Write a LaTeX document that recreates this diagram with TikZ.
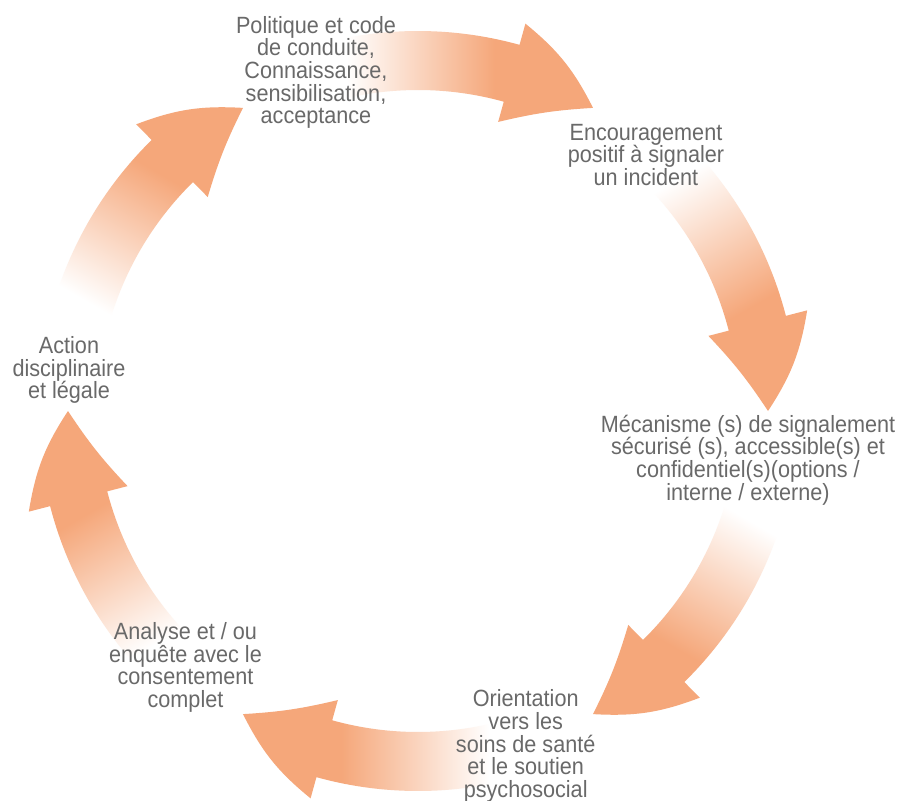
\documentclass[tikz,border=0pt]{standalone}
\usepackage{fontspec}
\setmainfont{Liberation Sans}[FakeStretch=0.92]
\usepackage{tikz}
\definecolor{arrowor}{RGB}{245,167,122}
\definecolor{labelgray}{RGB}{105,105,105}
\pgfdeclarehorizontalshading{arrowfade}{100bp}{color(0bp)=(white); color(30bp)=(white); color(57bp)=(arrowor); color(100bp)=(arrowor)}

\tikzset{
    cyclearrow/.pic={
        \shade[shading=arrowfade, shading angle=0]
            (105:380) arc[start angle=105, end angle=74.5, radius=380]
            -- (74.5:402) to[bend left=12] (60:350) to[bend right=5] (74.5:300)
            -- (74.5:321) arc[start angle=74.5, end angle=105, radius=321] -- cycle;
    },
    steplabel/.style={align=center, text=labelgray, inner sep=0pt, font=\fontsize{23.5}{22.6}\selectfont}
}

\begin{document}
\begin{tikzpicture}[x=1pt, y=1pt]
    \useasboundingbox[fill=white] (-418,-390) rectangle (485,411);

    % Fleches du cycle
    \pic at (0,0) {cyclearrow};
    \pic[transform canvas={rotate=-60}] at (0,0) {cyclearrow};
    \pic[transform canvas={rotate=-120}] at (0,0) {cyclearrow};
    \pic[transform canvas={rotate=-180}] at (0,0) {cyclearrow};
    \pic[transform canvas={rotate=-240}] at (0,0) {cyclearrow};
    \pic[transform canvas={rotate=-300}] at (0,0) {cyclearrow};

    % Etapes
    \node[steplabel] (politique) at (-102,338.5) {Politique et code\\de conduite,\\Connaissance,\\sensibilisation,\\acceptance};
    \node[steplabel] (encourage) at (228,256) {Encouragement\\positif à signaler\\un incident};
    \node[steplabel] (mecanisme) at (330,-49) {Mécanisme (s) de signalement\\sécurisé (s), accessible(s) et\\confidentiel(s)(options /\\interne / externe)};
    \node[steplabel] (orientation) at (107.7,-335) {Orientation\\vers les\\soins de santé\\et le soutien\\psychosocial};
    \node[steplabel] (analyse) at (-232.5,-256.5) {Analyse et / ou\\enquête avec le\\consentement\\complet};
    \node[steplabel] (action) at (-349,41) {Action\\disciplinaire\\et légale};
\end{tikzpicture}
\end{document}
